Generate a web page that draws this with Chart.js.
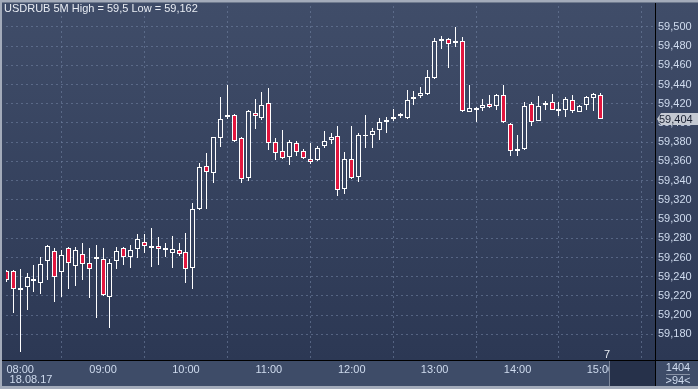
<!DOCTYPE html>
<html>
<head>
<meta charset="utf-8">
<script src="https://cdn.jsdelivr.net/npm/chart.js@4.4.1/dist/chart.umd.min.js"></script>
<style>
  html, body { margin: 0; padding: 0; background: #a3abba; }
  #wrap { width: 698px; height: 389px; }
</style>
</head>
<body>
<div id="wrap"><canvas id="chart" width="698" height="389"></canvas></div>
<script>
// 5 minute bars, 18.08.17
const times = [
  '07:50','07:55',
  '08:00','08:05','08:10','08:15','08:20','08:25','08:30','08:35','08:40','08:45','08:50','08:55',
  '09:00','09:05','09:10','09:15','09:20','09:25','09:30','09:35','09:40','09:45','09:50','09:55',
  '10:00','10:05','10:10','10:15','10:20','10:25','10:30','10:35','10:40','10:45','10:50','10:55',
  '11:00','11:05','11:10','11:15','11:20','11:25','11:30','11:35','11:40','11:45','11:50','11:55',
  '12:00','12:05','12:10','12:15','12:20','12:25','12:30','12:35','12:40','12:45','12:50','12:55',
  '13:00','13:05','13:10','13:15','13:20','13:25','13:30','13:35','13:40','13:45','13:50','13:55',
  '14:00','14:05','14:10','14:15','14:20','14:25','14:30','14:35','14:40','14:45','14:50','14:55',
  '15:00'
];
const opens = [
  59.246,59.246,59.227,59.229,59.238,59.233,59.256,59.267,59.245,59.270,59.251,59.264,59.254,59.260,
  59.258,59.219,59.256,59.270,59.261,59.269,59.276,59.271,59.272,59.269,59.265,59.268,59.266,59.249,
  59.311,59.355,59.348,59.384,59.407,59.408,59.384,59.343,59.410,59.405,59.421,59.380,59.371,59.365,
  59.379,59.371,59.363,59.361,59.376,59.382,59.386,59.331,59.363,59.344,59.386,59.387,59.393,59.401,
  59.405,59.407,59.405,59.426,59.428,59.430,59.447,59.486,59.487,59.484,59.485,59.411,59.415,59.416,
  59.420,59.418,59.429,59.399,59.372,59.373,59.420,59.402,59.419,59.422,59.414,59.413,59.424,59.411,
  59.419,59.426,59.429
];
const highs = [
  59.247,59.247,59.248,59.244,59.252,59.261,59.273,59.270,59.268,59.271,59.271,59.275,59.270,59.273,
  59.270,59.258,59.271,59.271,59.273,59.284,59.284,59.291,59.281,59.275,59.282,59.275,59.286,59.317,
  59.358,59.369,59.385,59.427,59.439,59.409,59.385,59.414,59.425,59.432,59.436,59.384,59.393,59.382,
  59.381,59.373,59.379,59.376,59.392,59.390,59.397,59.370,59.397,59.390,59.408,59.395,59.405,59.406,
  59.415,59.410,59.434,59.433,59.437,59.455,59.488,59.491,59.488,59.500,59.489,59.440,59.417,59.425,
  59.429,59.430,59.439,59.400,59.387,59.422,59.422,59.428,59.423,59.430,59.422,59.427,59.429,59.419,
  59.428,59.431,59.431
];
const lows = [
  59.235,59.202,59.162,59.205,59.224,59.222,59.237,59.214,59.219,59.227,59.230,59.237,59.218,59.197,
  59.220,59.187,59.248,59.252,59.249,59.260,59.265,59.250,59.252,59.261,59.249,59.262,59.234,59.227,
  59.309,59.311,59.338,59.375,59.404,59.380,59.338,59.340,59.394,59.403,59.372,59.361,59.363,59.356,
  59.366,59.363,59.357,59.360,59.374,59.378,59.324,59.326,59.342,59.339,59.374,59.374,59.382,59.390,
  59.402,59.405,59.404,59.419,59.426,59.429,59.446,59.477,59.457,59.479,59.411,59.411,59.401,59.412,
  59.416,59.414,59.400,59.366,59.366,59.372,59.397,59.402,59.414,59.413,59.407,59.406,59.410,59.411,
  59.414,59.412,59.404
];
const closes = [
  59.237,59.227,59.227,59.240,59.236,59.253,59.272,59.240,59.263,59.254,59.268,59.253,59.248,59.260,
  59.221,59.254,59.267,59.261,59.268,59.279,59.272,59.271,59.269,59.269,59.269,59.264,59.248,59.310,
  59.354,59.349,59.385,59.404,59.407,59.381,59.342,59.412,59.407,59.419,59.379,59.369,59.364,59.380,
  59.370,59.364,59.359,59.374,59.381,59.385,59.330,59.362,59.343,59.387,59.388,59.392,59.401,59.403,
  59.405,59.408,59.424,59.426,59.431,59.448,59.485,59.486,59.482,59.484,59.412,59.416,59.415,59.419,
  59.417,59.429,59.401,59.371,59.372,59.418,59.401,59.418,59.421,59.414,59.414,59.425,59.412,59.418,
  59.427,59.430,59.404
];
const yTicks = [59.18,59.20,59.22,59.24,59.26,59.28,59.30,59.32,59.34,59.36,59.38,59.40,59.42,59.44,59.46,59.48,59.50];
const hourTicks = ['08:00','09:00','10:00','11:00','12:00','13:00','14:00','15:00'];
const dateLabel = '18.08.17';
const title = 'USDRUB 5M High = 59,5 Low = 59,162';

const FONT = "'Liberation Sans Narrow', 'Liberation Sans', Arial, sans-serif";
const TXT = '#cfdbee';
const RED = '#e2163e';
const GRID = 'rgba(112,128,160,0.6)';

const fmt = v => v.toFixed(3).replace('.', ',');

let bgGrad = null;
function plotGradient(chart) {
  const area = chart.chartArea;
  if (!area) return '#36435e';
  if (!bgGrad) {
    bgGrad = chart.ctx.createLinearGradient(0, 0, 0, area.bottom);
    bgGrad.addColorStop(0, '#404d69');
    bgGrad.addColorStop(1, '#2c3854');
  }
  return bgGrad;
}

const isDoji = i => Math.abs(opens[i] - closes[i]) < 0.0015;

const wickData = times.map((t, i) => ({ x: i, y: [lows[i], highs[i]] }));
const bodyData = times.map((t, i) => isDoji(i) ? null : { x: i, y: [opens[i], closes[i]] }).filter(d => d);
const dojiData = times.map((t, i) => isDoji(i) ? { x: i, y: closes[i] } : null).filter(d => d);

// snap the candles onto whole pixels so the 1px wicks stay sharp
const snap = {
  id: 'snap',
  afterDatasetsUpdate(chart) {
    chart.data.datasets.forEach((ds, di) => {
      chart.getDatasetMeta(di).data.forEach(el => {
        el.x = Math.floor(el.x) + 0.5;
        if (ds.type === 'line') {
          el.y = Math.round(el.y);
        } else {
          el.y = Math.round(el.y);
          el.base = Math.round(el.base);
        }
      });
    });
  }
};

const frame = {
  id: 'frame',
  beforeDraw(chart) {
    const { ctx, chartArea: a } = chart;
    ctx.save();
    ctx.fillStyle = '#a3abba';
    ctx.fillRect(0, 0, 698, 389);
    ctx.fillStyle = '#6f7a8e';
    ctx.fillRect(2, 2, 696, 1);
    ctx.fillStyle = plotGradient(chart);
    ctx.fillRect(2, 3, 696, a.bottom - 3);
    ctx.fillStyle = '#3e4c68';
    ctx.fillRect(2, a.bottom, 696, 386 - a.bottom);
    ctx.restore();
  },
  afterDraw(chart) {
    const { ctx, chartArea: a } = chart;
    const y = chart.scales.y;
    ctx.save();
    // axis lines
    ctx.fillStyle = '#000000';
    ctx.fillRect(2, a.bottom, 696, 1);
    ctx.fillRect(a.right, 3, 1, 383);
    // scroll box
    ctx.fillStyle = '#26314a';
    ctx.fillRect(610, a.bottom + 1, a.right - 610, 385 - a.bottom);
    ctx.fillStyle = '#7d879a';
    ctx.fillRect(609, a.bottom + 1, 1, 385 - a.bottom);
    // title
    ctx.font = '11px ' + FONT;
    ctx.fillStyle = '#e8ecf3';
    ctx.textBaseline = 'middle';
    ctx.textAlign = 'left';
    ctx.fillText(title, 4, 9);
    // date
    ctx.fillStyle = TXT;
    ctx.textAlign = 'center';
    ctx.fillText(dateLabel, 31, 380);
    // bars count box
    ctx.fillText('1404', 678, 368);
    ctx.fillText('>94<', 678, 381);
    ctx.fillStyle = '#8892a6';
    ctx.fillRect(666, 374, 24, 1);
    // shift marker
    ctx.fillStyle = '#e8ecf3';
    ctx.fillText('7', 607, 355);
    // last price tag
    const last = closes[closes.length - 1];
    const py = Math.round(y.getPixelForValue(last));
    ctx.fillStyle = '#c4c9d2';
    ctx.beginPath();
    ctx.moveTo(a.right + 2, py);
    ctx.lineTo(a.right + 6, py - 6);
    ctx.lineTo(698, py - 6);
    ctx.lineTo(698, py + 6);
    ctx.lineTo(a.right + 6, py + 6);
    ctx.closePath();
    ctx.fill();
    ctx.fillStyle = '#1b2233';
    ctx.textAlign = 'left';
    ctx.fillText(fmt(last), a.right + 4, py + 0.5);
    ctx.restore();
  }
};

new Chart(document.getElementById('chart'), {
  type: 'bar',
  data: {
    datasets: [
      {
        type: 'line',
        data: dojiData,
        showLine: false,
        pointStyle: 'line',
        pointRadius: 2.5,
        pointBorderColor: '#ffffff',
        pointBorderWidth: 2,
        order: 1
      },
      {
        data: bodyData,
        grouped: false,
        barThickness: 5,
        borderWidth: 1,
        borderColor: '#ffffff',
        borderSkipped: false,
        inflateAmount: 0,
        backgroundColor: ctx => {
          const i = ctx.raw ? ctx.raw.x : 0;
          return closes[i] < opens[i] ? RED : plotGradient(ctx.chart);
        },
        order: 2
      },
      {
        data: wickData,
        grouped: false,
        barThickness: 1,
        borderWidth: 0,
        inflateAmount: 0,
        backgroundColor: '#ffffff',
        order: 3
      }
    ]
  },
  options: {
    responsive: false,
    devicePixelRatio: 1,
    animation: false,
    events: [],
    layout: { padding: { left: 3, top: 4, right: 0, bottom: 0 } },
    plugins: { legend: { display: false }, tooltip: { enabled: false } },
    scales: {
      x: {
        type: 'linear',
        min: -0.05,
        max: 93.9,
        offset: false,
        afterBuildTicks: s => {
          s.ticks = hourTicks.map(h => ({ value: times.indexOf(h) }));
        },
        afterFit: s => {
          s.height = 29;
          s.paddingLeft = 0; s.paddingRight = 0;
        },
        ticks: {
          autoSkip: false,
          maxRotation: 0,
          padding: 3,
          color: TXT,
          font: { family: FONT, size: 11 },
          callback: v => times[v]
        },
        grid: { color: GRID, drawTicks: false, lineWidth: 1 },
        border: { display: false, dash: [2, 3] }
      },
      y: {
        position: 'right',
        min: 59.1534,
        max: 59.5217,
        afterBuildTicks: s => {
          s.ticks = yTicks.map(v => ({ value: v }));
        },
        afterFit: s => {
          s.width = 43;
          s.paddingTop = 0; s.paddingBottom = 0;
        },
        ticks: {
          autoSkip: false,
          crossAlign: 'near',
          padding: 3,
          color: TXT,
          font: { family: FONT, size: 11 },
          callback: v => fmt(v)
        },
        grid: { color: GRID, drawTicks: false, lineWidth: 1 },
        border: { display: false, dash: [2, 3] }
      }
    }
  },
  plugins: [snap, frame]
});
</script>
</body>
</html>
